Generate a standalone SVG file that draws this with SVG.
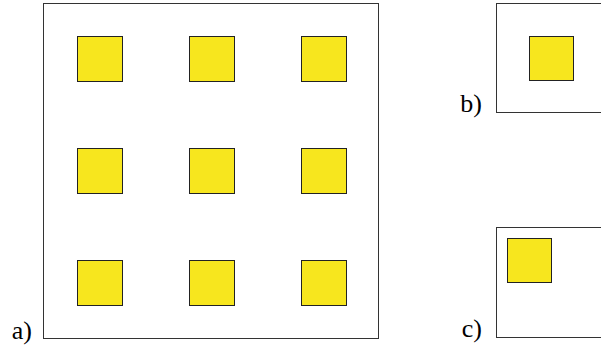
<svg xmlns="http://www.w3.org/2000/svg" width="601" height="348" viewBox="0 0 601 348">
  <style>
    .frame { fill: #ffffff; stroke: #333333; stroke-width: 1; }
    .cell { fill: #f7e61e; stroke: #222222; stroke-width: 1; }
    .lbl { font-family: "Liberation Serif", "DejaVu Serif", serif; font-size: 26px; fill: #000000; text-anchor: end; }
  </style>
  <rect width="601" height="348" fill="#ffffff"/>

  <!-- panel a: 3x3 grid of cells -->
  <g id="panel-a">
    <rect class="frame" x="43.5" y="3.5" width="335" height="335"/>
    <rect class="cell" x="77.5" y="36.5" width="45" height="45"/>
    <rect class="cell" x="189.5" y="36.5" width="45" height="45"/>
    <rect class="cell" x="301.5" y="36.5" width="45" height="45"/>
    <rect class="cell" x="77.5" y="148.5" width="45" height="45"/>
    <rect class="cell" x="189.5" y="148.5" width="45" height="45"/>
    <rect class="cell" x="301.5" y="148.5" width="45" height="45"/>
    <rect class="cell" x="77.5" y="260.5" width="45" height="45"/>
    <rect class="cell" x="189.5" y="260.5" width="45" height="45"/>
    <rect class="cell" x="301.5" y="260.5" width="45" height="45"/>
    <text class="lbl" x="32" y="339">a)</text>
  </g>

  <!-- panel b: single centred cell -->
  <g id="panel-b">
    <rect class="frame" x="496.5" y="3.5" width="120" height="109"/>
    <rect class="cell" x="529.5" y="36.5" width="44" height="44"/>
    <text class="lbl" x="482" y="112">b)</text>
  </g>

  <!-- panel c: single cell in the corner -->
  <g id="panel-c">
    <rect class="frame" x="496.5" y="227.5" width="120" height="110"/>
    <rect class="cell" x="507.5" y="238.5" width="44" height="44"/>
    <text class="lbl" x="482" y="337">c)</text>
  </g>
</svg>
